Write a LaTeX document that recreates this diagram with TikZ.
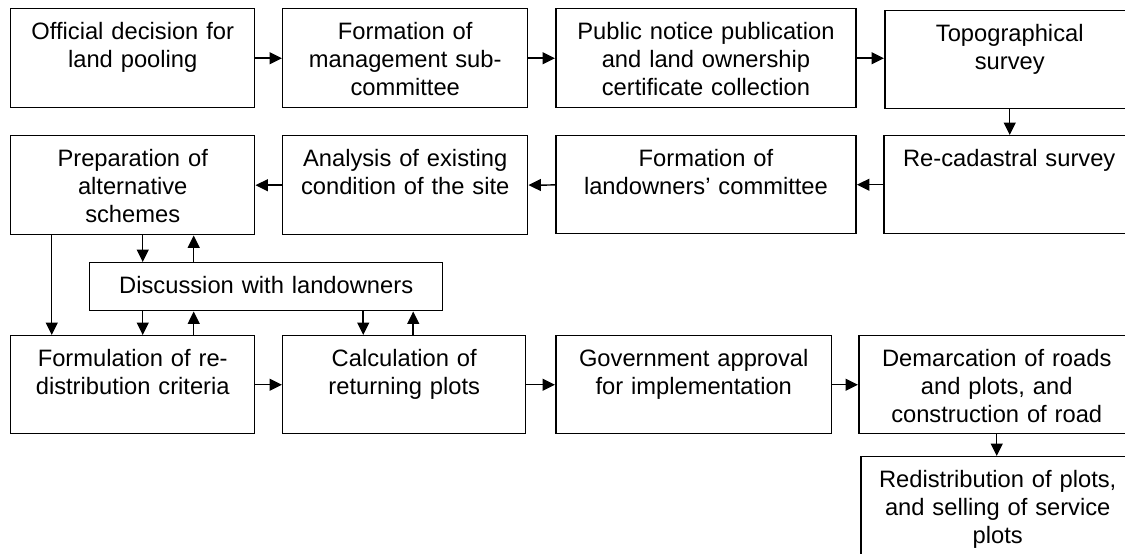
\documentclass[tikz,border=0pt]{standalone}
\usepackage{fontspec}
\setmainfont{Liberation Sans}
\usetikzlibrary{arrows.meta,calc}

\tikzset{
  stage/.style={draw, line width=0.85pt, anchor=north west, inner sep=0pt, text width=#1,
    align=center, text height=0.62cm, text depth=1.36cm,
    font=\fontsize{13.5}{15.9}\selectfont},
  flow/.style={-{Triangle[length=0.25cm,width=0.24cm]}, line width=0.85pt}
}

\begin{document}
\begin{tikzpicture}[x=0.02cm,y=-0.02cm]
    \useasboundingbox (0,0) rectangle (1125,554);
    % first row
    \node[stage=4.88cm] (official) at (10,8) {Official decision for\\land pooling};
    \node[stage=4.9cm] (manage) at (282,8) {Formation of\\management sub-\\committee};
    \node[stage=6.01cm] (notice) at (555,8) {Public notice publication\\and land ownership\\certificate collection};
    \node[stage=5cm, text depth=1.34cm] (topo) at (884,10) {Topographical\\survey};
    % second row
    \node[stage=4.88cm] (prep) at (10,135) {Preparation of\\alternative\\schemes};
    \node[stage=4.9cm] (analysis) at (282,135) {Analysis of existing\\condition of the site};
    \node[stage=6.01cm, text depth=1.34cm] (committee) at (555,135) {Formation of\\landowners’ committee};
    \node[stage=5.02cm, text depth=1.34cm] (recad) at (883,135) {Re-cadastral survey};
    % discussion
    \node[stage=7.06cm, text depth=0.34cm] (disc) at (89,262) {Discussion with landowners};
    % third row
    \node[stage=4.88cm, text depth=1.34cm] (formul) at (10,335) {Formulation of re-\\distribution criteria};
    \node[stage=4.86cm, text depth=1.34cm] (calc) at (282,335) {Calculation of\\returning plots};
    \node[stage=5.52cm, text depth=1.34cm] (gov) at (555,335) {Government approval\\for implementation};
    \node[stage=5.52cm, text depth=1.34cm] (demarc) at (858,335) {Demarcation of roads\\and plots, and\\construction of road};
    \node[stage=5.48cm, text depth=1.7cm] (redist) at (860,456) {Redistribution of plots,\\and selling of service\\plots};

    % main flow
    \draw[flow] (official) -- (manage);
    \draw[flow] (manage) -- (notice);
    \draw[flow] (notice.east) -- (notice.east -| topo.west);
    \draw[flow] (topo.south) -- (topo.south |- recad.north);
    \draw[flow] (recad.west) -- (recad.west -| committee.east);
    \draw[flow] (committee) -- (analysis);
    \draw[flow] (analysis) -- (prep);
    \draw[flow] (formul) -- (calc);
    \draw[flow] (calc) -- (gov);
    \draw[flow] (gov) -- (demarc);
    \draw[flow] (demarc.south) -- (demarc.south |- redist.north);

    % links with the discussion
    \coordinate (pd) at ([xshift=0.2cm]prep.south);
    \coordinate (pu) at ([xshift=1.22cm]prep.south);
    \coordinate (pl) at ([xshift=-1.62cm]prep.south);
    \coordinate (fd) at ([xshift=0.2cm]formul.north);
    \coordinate (fu) at ([xshift=1.22cm]formul.north);
    \coordinate (cd) at ([xshift=-0.82cm]calc.north);
    \coordinate (cu) at ([xshift=0.18cm]calc.north);
    \draw[flow] (pd) -- (pd |- disc.north);
    \draw[flow] (pu |- disc.north) -- (pu);
    \draw[flow] (fd |- disc.south) -- (fd);
    \draw[flow] (fu) -- (fu |- disc.south);
    \draw[flow] (cd |- disc.south) -- (cd);
    \draw[flow] (cu) -- (cu |- disc.south);
    \draw[flow] (pl) -- (pl |- formul.north);
\end{tikzpicture}
\end{document}
